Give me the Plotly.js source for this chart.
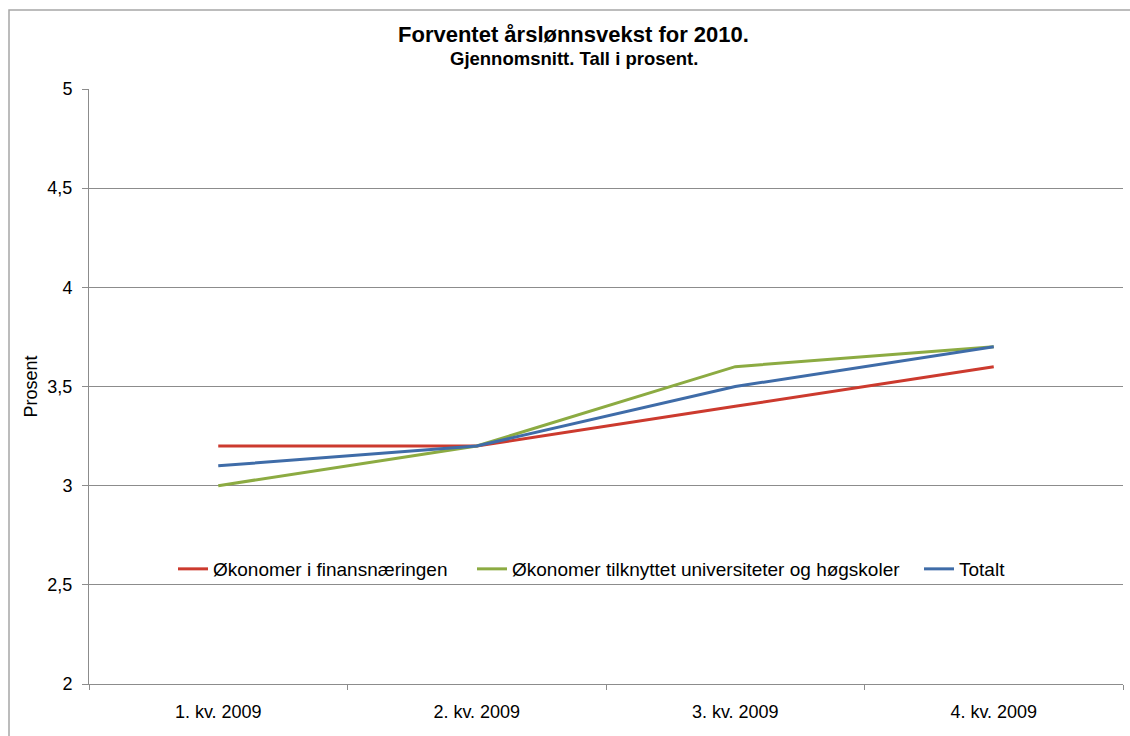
<!DOCTYPE html>
<html>
<head>
<meta charset="utf-8">
<script src="https://cdn.plot.ly/plotly-3.0.1.min.js"></script>
<style>
html,body{margin:0;padding:0;background:#fff;}
#chart{width:1130px;height:736px;}
</style>
</head>
<body>
<div id="chart"></div>
<script>
const categories = ["1. kv. 2009", "2. kv. 2009", "3. kv. 2009", "4. kv. 2009"];
const seriesNames = ["Økonomer i finansnæringen", "Økonomer tilknyttet universiteter og høgskoler", "Totalt"];
const finans = [3.2, 3.2, 3.4, 3.6];
const universitet = [3.0, 3.2, 3.6, 3.7];
const totalt = [3.1, 3.2, 3.5, 3.7];
const yTicks = [2, 2.5, 3, 3.5, 4, 4.5, 5];

const colors = ["#CC3A2E", "#8CAB42", "#3F6CA8"];
const F = "Liberation Sans, Arial, sans-serif";

const traces = [finans, universitet, totalt].map((ys, i) => ({
  type: "scatter", mode: "lines",
  x: categories, y: ys, name: seriesNames[i],
  line: {color: colors[i], width: 3},
  legend: i === 0 ? "legend" : (i === 1 ? "legend2" : "legend3"),
  hoverinfo: "x+y"
}));

const L = 89, R = 7, T = 89, B = 52;
const pw = 1130 - L - R, ph = 736 - T - B;
const px = v => (v - L) / pw;
const py = v => (736 - B - v) / ph;

const legBase = {
  orientation: "h", yanchor: "middle", xanchor: "left", y: py(569),
  bgcolor: "rgba(0,0,0,0)", font: {family: F, size: 19, color: "#000"},
  borderwidth: 0, itemwidth: 30, itemclick: false, itemdoubleclick: false
};

const layout = {
  width: 1130, height: 736,
  margin: {l: L, r: R, t: T, b: B},
  paper_bgcolor: "#fff", plot_bgcolor: "#fff",
  separators: ", ",
  font: {family: F, size: 18, color: "#000"},
  showlegend: true,
  legend: Object.assign({}, legBase, {x: px(173)}),
  legend2: Object.assign({}, legBase, {x: px(472)}),
  legend3: Object.assign({}, legBase, {x: px(919)}),
  xaxis: {
    type: "category", range: [-0.5, 3.5],
    tickson: "boundaries", ticks: "outside", ticklen: 5, tickcolor: "#8c8c8c",
    showline: true, linecolor: "#8c8c8c", linewidth: 1,
    showgrid: false, zeroline: false, ticklabelstandoff: 11,
    tickfont: {family: F, size: 18, color: "#000"}, fixedrange: true
  },
  yaxis: {
    range: [2, 5], tickvals: yTicks, tickformat: ".1~f",
    ticks: "outside", ticklen: 6, tickcolor: "#8c8c8c",
    showline: true, linecolor: "#8c8c8c", linewidth: 1,
    showgrid: true, gridcolor: "#8c8c8c", gridwidth: 1, zeroline: false,
    ticklabelstandoff: 6,
    tickfont: {family: F, size: 18, color: "#000"},
    title: {text: "Prosent", font: {family: F, size: 18, color: "#000"}, standoff: 5},
    fixedrange: true
  },
  annotations: [
    {xref: "paper", yref: "paper", x: px(573), y: py(34), xanchor: "center", yanchor: "middle",
     text: "<b>Forventet årslønnsvekst for 2010.</b>", showarrow: false,
     font: {family: F, size: 22, color: "#000"}},
    {xref: "paper", yref: "paper", x: px(574), y: py(59), xanchor: "center", yanchor: "middle",
     text: "<b>Gjennomsnitt. Tall i prosent.</b>", showarrow: false,
     font: {family: F, size: 18.5, color: "#000"}}
  ],
  shapes: [
    {type: "rect", xref: "paper", yref: "paper", x0: px(9), x1: px(1140), y0: py(746), y1: py(10),
     line: {color: "#a6a6a6", width: 1.5}, fillcolor: "rgba(0,0,0,0)", layer: "below"}
  ]
};

Plotly.newPlot("chart", traces, layout, {displayModeBar: false, staticPlot: true});
</script>
</body>
</html>
